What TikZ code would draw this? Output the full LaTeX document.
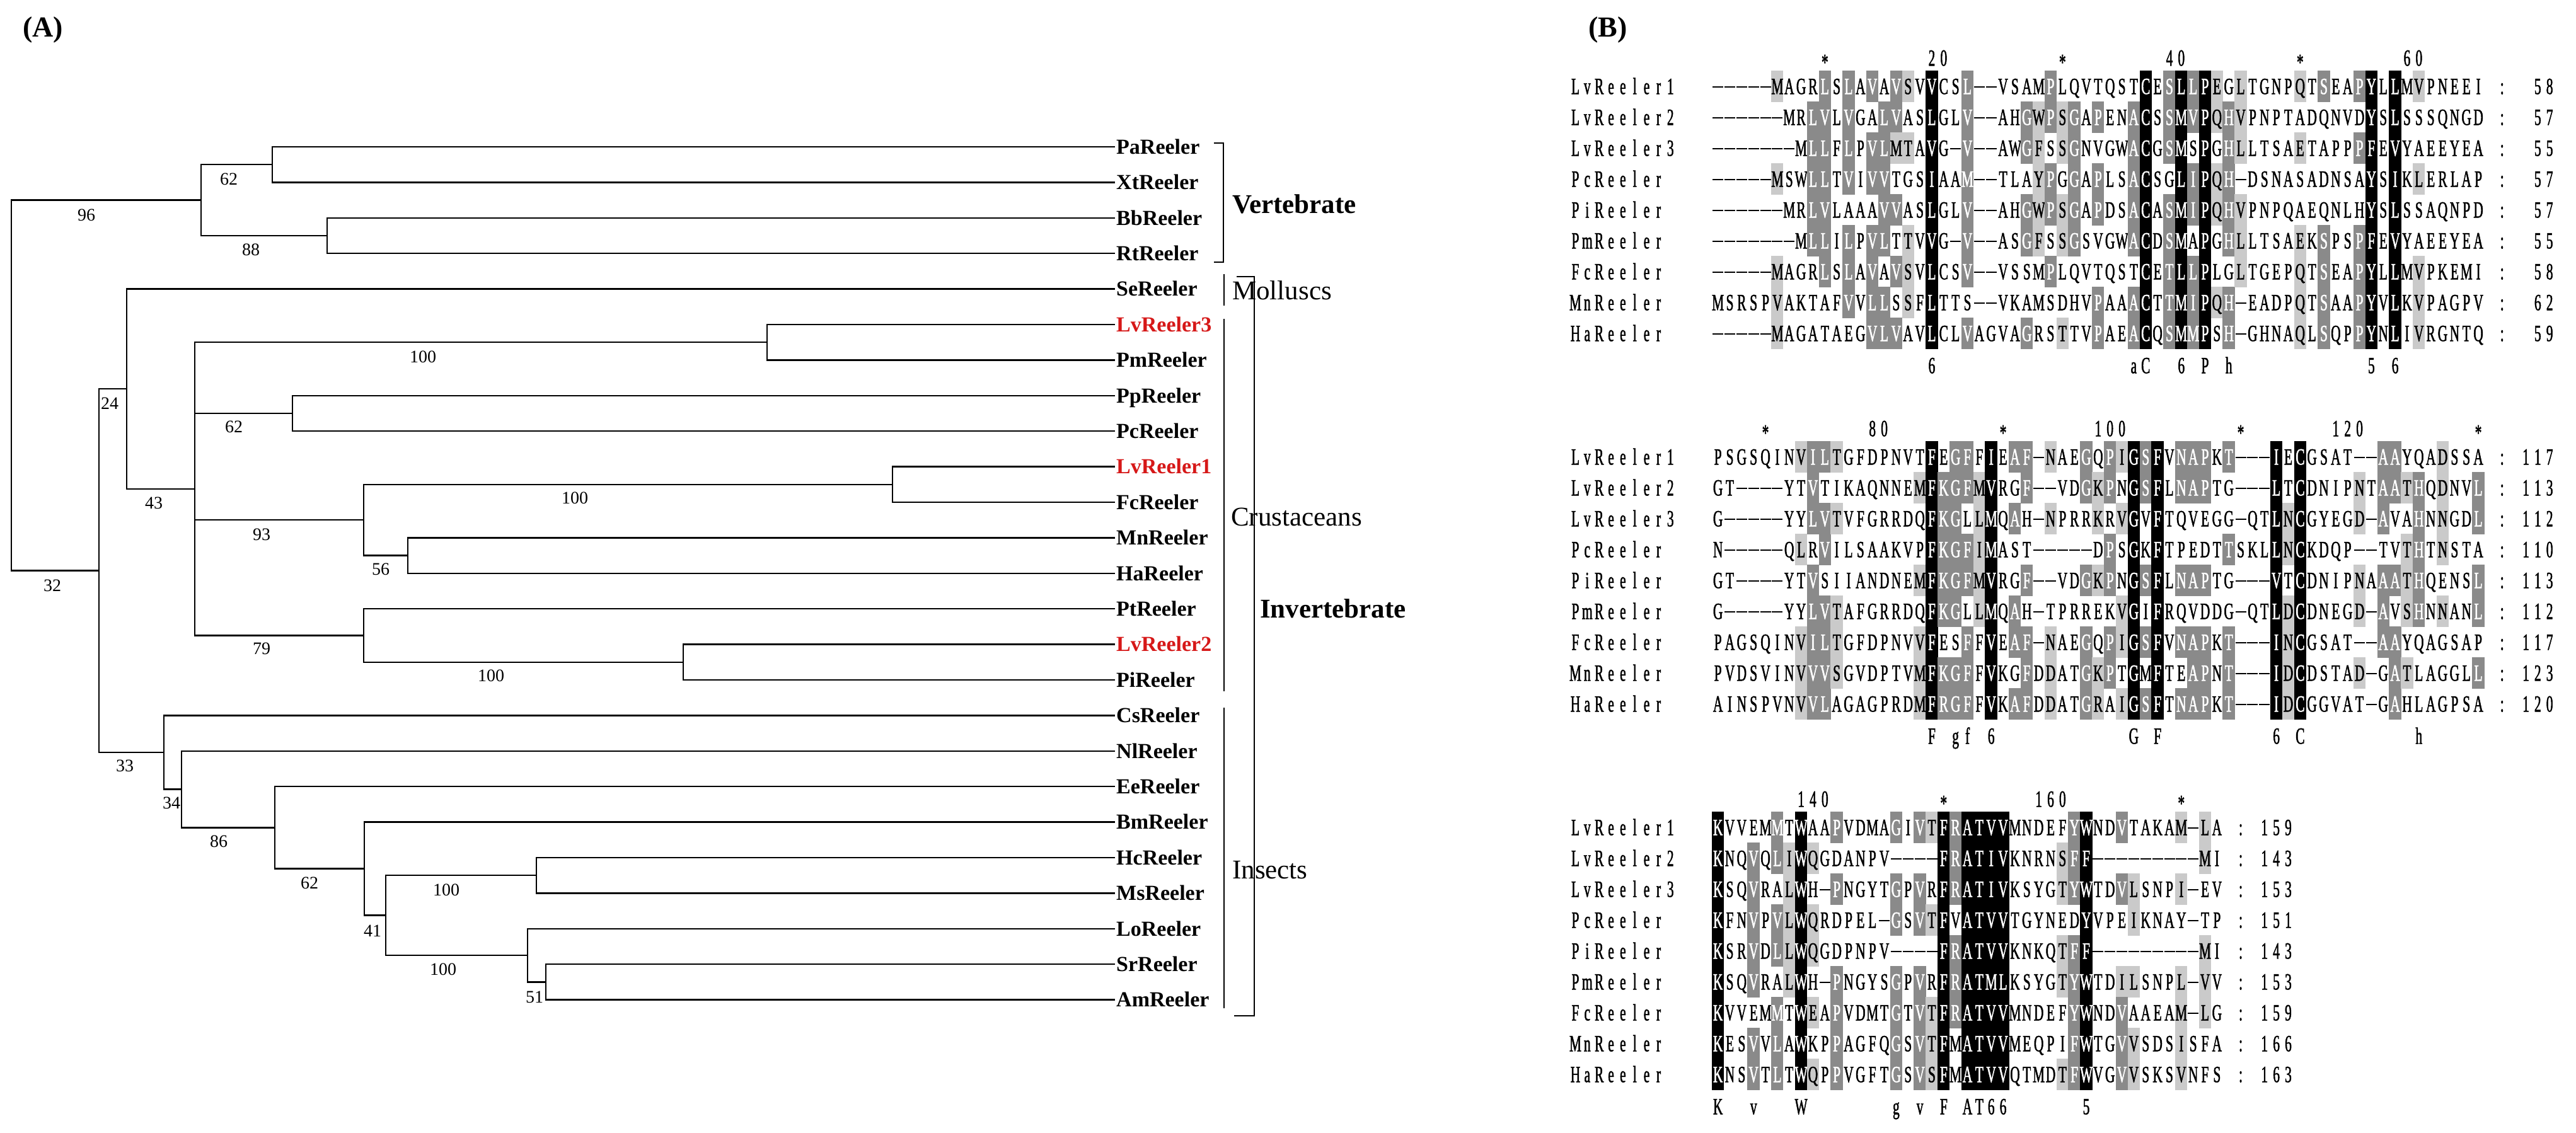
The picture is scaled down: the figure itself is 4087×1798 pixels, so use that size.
\documentclass[tikz,border=0pt]{standalone}
\usepackage{fontspec}
\setmainfont{Liberation Serif}
\newfontfamily\seqfont[FakeStretch=0.58,FakeBold=1.3]{Liberation Serif}
\definecolor{lvred}{RGB}{214,24,24}
\definecolor{shdark}{RGB}{138,138,138}
\definecolor{shlight}{RGB}{202,202,202}
\tikzset{
  branch/.style={line width=2.4pt, line cap=rect},
  leafname/.style={anchor=west, inner sep=0pt, text height=22.5pt, text depth=0pt, font=\fontsize{34}{36}\selectfont\bfseries},
  bootval/.style={inner sep=0pt, text height=19pt, text depth=0pt, font=\fontsize{28}{30}\selectfont},
  grouptext/.style={anchor=west, inner sep=0pt, text height=28.5pt, text depth=0pt, font=\fontsize{43}{46}\selectfont},
  bracket/.style={line width=2.6pt},
  panellabel/.style={inner sep=0pt, font=\fontsize{46}{50}\selectfont\bfseries},
  seqchar/.style={inner sep=0pt, anchor=base, font=\seqfont\fontsize{37}{40}\selectfont},
  gapline/.style={line width=2.4pt},
}
\def\rknone{none}
\newcommand\rkcell[4]{%
  \ifcase#4\relax \def\rkbg{none}\def\rkfg{black}%
  \or \def\rkbg{shlight}\def\rkfg{black}%
  \or \def\rkbg{shdark}\def\rkfg{white}%
  \else \def\rkbg{black}\def\rkfg{white}\fi
  \rkdraw{#1}{#2}{#3}}
\newcommand\rkdraw[3]{%
  \ifx\rkbg\rknone\else
    \fill[fill=\rkbg] ({2489.7+18.85*(#1)},{#2-24.7}) rectangle ++(19.3,49.4);%
  \fi
  \if-#3\relax
    \draw[gapline,draw=\rkfg] ({2491+18.85*(#1)},{#2+1}) -- ++(17,0);%
  \else\if*#3\relax
    \node[seqchar,text=\rkfg] at ({2499.43+18.85*(#1)},{#2+19}) {#3};%
  \else
    \node[seqchar,text=\rkfg] at ({2499.43+18.85*(#1)},{#2+12.3}) {#3};%
  \fi\fi}

\ExplSyntaxOn
\int_new:N \l_rk_len_int
\int_new:N \l_rk_n_int
\int_new:N \l_rk_i_int
\int_new:N \l_rk_m_int
\int_new:N \l_rk_lev_int
\int_new:N \l_rk_k_int
\tl_new:N \l_rk_grp_tl
\tl_new:N \l_rk_num_tl
\int_step_inline:nn {9}
  {
    \tl_new:c {l_rk_ch_#1_tl}
    \tl_new:c {l_rk_g_#1_tl}
    \int_new:c {l_rk_n_#1_int}
    \int_new:c {l_rk_id_#1_int}
  }
\cs_new_protected:Npn \rk_group:n #1
  {
    \str_case:nnF {#1}
      {
        {L}{\tl_set:Nn \l_rk_grp_tl {h}}
        {I}{\tl_set:Nn \l_rk_grp_tl {h}}
        {V}{\tl_set:Nn \l_rk_grp_tl {h}}
        {M}{\tl_set:Nn \l_rk_grp_tl {h}}
        {F}{\tl_set:Nn \l_rk_grp_tl {a}}
        {Y}{\tl_set:Nn \l_rk_grp_tl {a}}
        {W}{\tl_set:Nn \l_rk_grp_tl {a}}
        {D}{\tl_set:Nn \l_rk_grp_tl {d}}
        {N}{\tl_set:Nn \l_rk_grp_tl {d}}
        {E}{\tl_set:Nn \l_rk_grp_tl {e}}
        {Q}{\tl_set:Nn \l_rk_grp_tl {e}}
        {S}{\tl_set:Nn \l_rk_grp_tl {s}}
        {T}{\tl_set:Nn \l_rk_grp_tl {s}}
        {K}{\tl_set:Nn \l_rk_grp_tl {k}}
        {R}{\tl_set:Nn \l_rk_grp_tl {k}}
        {-}{\tl_clear:N \l_rk_grp_tl}
      }
      { \tl_set:Nn \l_rk_grp_tl {#1} }
  }
\cs_new_protected:Npn \rk_column:nnn #1#2#3
  {
    \int_step_inline:nn {9}
      {
        \tl_set:cx {l_rk_ch_##1_tl} { \tl_item:cn {g_rk_seq_#1_##1_tl} {#2} }
        \exp_args:Nv \rk_group:n {l_rk_ch_##1_tl}
        \tl_set_eq:cN {l_rk_g_##1_tl} \l_rk_grp_tl
      }
    \int_zero:N \l_rk_m_int
    \int_step_inline:nn {9}
      {
        \int_zero:N \l_rk_n_int
        \int_zero:N \l_rk_i_int
        \tl_if_empty:cF {l_rk_g_##1_tl}
          {
            \int_step_inline:nn {9}
              {
                \tl_if_eq:ccT {l_rk_g_##1_tl} {l_rk_g_####1_tl}
                  { \int_incr:N \l_rk_n_int }
                \tl_if_eq:ccT {l_rk_ch_##1_tl} {l_rk_ch_####1_tl}
                  { \int_incr:N \l_rk_i_int }
              }
          }
        \int_set_eq:cN {l_rk_n_##1_int} \l_rk_n_int
        \int_set_eq:cN {l_rk_id_##1_int} \l_rk_i_int
        \int_compare:nNnT {\l_rk_n_int} > {\l_rk_m_int}
          { \int_set_eq:NN \l_rk_m_int \l_rk_n_int }
      }
    \int_step_inline:nn {9}
      {
        \int_zero:N \l_rk_lev_int
        \int_compare:nNnT { \int_use:c {l_rk_n_##1_int} } = { \l_rk_m_int }
          {
            \int_compare:nNnTF {\l_rk_m_int} = {9}
              { \int_set:Nn \l_rk_lev_int {3} }
              {
                \int_compare:nNnTF {\l_rk_m_int} > {6}
                  { \int_set:Nn \l_rk_lev_int {2} }
                  {
                    \int_compare:nNnT {\l_rk_m_int} > {4}
                      {
                        \int_compare:nNnTF { \int_use:c {l_rk_id_##1_int} } > {4}
                          { \int_set:Nn \l_rk_lev_int {2} }
                          { \int_set:Nn \l_rk_lev_int {1} }
                      }
                  }
              }
          }
        \use:x
          {
            \exp_not:N \rkcell
              { \int_eval:n {11 + #2} }
              { \fp_eval:n { #3 + 49 * (##1 - 1) } }
              { \tl_use:c {l_rk_ch_##1_tl} }
              { \int_use:N \l_rk_lev_int }
          }
      }
  }
\cs_new_protected:Npn \rk_block:nn #1#2
  {
    \int_set:Nn \l_rk_len_int { \tl_count:c {g_rk_seq_#1_1_tl} }
    \int_step_inline:nn { \l_rk_len_int }
      { \rk_column:nnn {#1} {##1} {#2} }
  }
\cs_new_protected:Npn \rk_text:nnn #1#2#3
  {
    \int_zero:N \l_rk_k_int
    \str_map_inline:nn {#3}
      {
        \str_if_eq:nnF {##1} {~}
          {
            \use:x
              {
                \exp_not:N \rkcell
                  { \int_eval:n {#1 + \l_rk_k_int} }
                  { #2 }
                  { ##1 }
                  { 0 }
              }
          }
        \int_incr:N \l_rk_k_int
      }
  }
\cs_generate_variant:Nn \rk_text:nnn {xxx}
\clist_const:Nn \c_rk_names_clist {LvReeler1,LvReeler2,LvReeler3,PcReeler,PiReeler,PmReeler,FcReeler,MnReeler,HaReeler}
\cs_new_protected:Npn \rk_labels:nnnn #1#2#3#4
  {
    \int_step_inline:nn {9}
      {
        \rk_text:xxx {0} { \fp_eval:n {#1 + 49*(##1-1)} } { \clist_item:Nn \c_rk_names_clist {##1} }
        \rk_text:xxx {#2} { \fp_eval:n {#1 + 49*(##1-1)} } {:}
        \tl_set:Nx \l_rk_num_tl { \clist_item:nn {#4} {##1} }
        \rk_text:xxx { \int_eval:n { #3 - \tl_count:N \l_rk_num_tl + 1 } } { \fp_eval:n {#1 + 49*(##1-1)} } { \l_rk_num_tl }
      }
  }
\NewDocumentCommand \rkseq {mmm}
  {
    \tl_if_exist:cF {g_rk_seq_#1_#2_tl} { \tl_new:c {g_rk_seq_#1_#2_tl} }
    \tl_gset:cn {g_rk_seq_#1_#2_tl} {#3}
  }
\NewDocumentCommand \rkblock {mm} { \rk_block:nn {#1} {#2} }
\NewDocumentCommand \rkat {mmm} { \rk_text:xxx { \int_eval:n {11+#2} } {#1} {#3} }
\NewDocumentCommand \rklabels {mmmm} { \rk_labels:nnnn {#1}{#2}{#3}{#4} }
\ExplSyntaxOff

\rkseq{1}{1}{-----MAGRLSLAVAVSVVCSL--VSAMPLQVTQSTCESLLPEGLTGNPQTSEAPYLLMVPNEEI}
\rkseq{1}{2}{------MRLVLVGALVASLGLV--AHGWPSGAPENACSSMVPQHVPNPTADQNVDYSLSSSQNGD}
\rkseq{1}{3}{-------MLLFLPVLMTAVG-V--AWGFSSGNVGWACGSMSPGHLLTSAETAPPPFEVYAEEYEA}
\rkseq{1}{4}{-----MSWLLTVIVVTGSIAAM--TLAYPGGAPLSACSGLIPQH-DSNASADNSAYSIKLERLAP}
\rkseq{1}{5}{------MRLVLAAAVVASLGLV--AHGWPSGAPDSACASMIPQHVPNPQAEQNLHYSLSSAQNPD}
\rkseq{1}{6}{-------MLLILPVLTTVVG-V--ASGFSSGSVGWACDSMAPGHLLTSAEKSPSPFEVYAEEYEA}
\rkseq{1}{7}{-----MAGRLSLAVAVSVLCSV--VSSMPLQVTQSTCETLLPLGLTGEPQTSEAPYLLMVPKEMI}
\rkseq{1}{8}{MSRSPVAKTAFVVLLSSFLTTS--VKAMSDHVPAAACTTMIPQH-EADPQTSAAPYVLKVPAGPV}
\rkseq{1}{9}{-----MAGATAEGVLVAVLCLVAGVAGRSTTVPAEACQSMMPSH-GHNAQLSQPPYNLIVRGNTQ}
\rkseq{2}{1}{PSGSQINVILTGFDPNVTFEGFFIEAF-NAEGQPIGSFVNAPKT---IECGSAT--AAYQADSSA}
\rkseq{2}{2}{GT----YTVTIKAQNNEMFKGFMVRGF--VDGKPNGSFLNAPTG---LTCDNIPNTAATHQDNVL}
\rkseq{2}{3}{G-----YYLVTVFGRRDQFKGLLMQAH-NPRRKRVGVFTQVEGG-QTLNCGYEGD-AVAHNNGDL}
\rkseq{2}{4}{N-----QLRVILSAAKVPFKGFIMAST-----DPSGKFTPEDTTSKLLNCKDQP--TVTHTNSTA}
\rkseq{2}{5}{GT----YTVSIIANDNEMFKGFMVRGF--VDGKPNGSFLNAPTG---VTCDNIPNAAATHQENSL}
\rkseq{2}{6}{G-----YYLVTAFGRRDQFKGLLMQAH-TPRREKVGIFRQVDDG-QTLDCDNEGD-AVSHNNANL}
\rkseq{2}{7}{PAGSQINVILTGFDPNVVFESFFVEAF-NAEGQPIGSFVNAPKT---INCGSAT--AAYQAGSAP}
\rkseq{2}{8}{PVDSVINVVVSGVDPTVMFKGFFVKGFDDATGKPTGMFTEAPNT---IDCDSTAD-GATLAGGLL}
\rkseq{2}{9}{AINSPVNVVLAGAGPRDMFRGFFVKAFDDATGRAIGSFTNAPKT---IDCGGVAT-GAHLAGPSA}
\rkseq{3}{1}{KVVEMMTWAAPVDMAGIVTFRATVVMNDEFYWNDVTAKAM-LA}
\rkseq{3}{2}{KNQVQLIWQGDANPV----FRATIVKNRNSFF---------MI}
\rkseq{3}{3}{KSQVRALWH-PNGYTGPVRFRATIVKSYGTYWTDVLSNPI-EV}
\rkseq{3}{4}{KFNVPVLWQRDPEL-GSVTFVATVVTGYNEDYVPEIKNAY-TP}
\rkseq{3}{5}{KSRVDLLWQGDPNPV----FRATVVKNKQTFF---------MI}
\rkseq{3}{6}{KSQVRALWH-PNGYSGPVRFRATMLKSYGTYWTDILSNPL-VV}
\rkseq{3}{7}{KVVEMMTWEAPVDMTGTVTFRATVVMNDEFYWNDVAAEAM-LG}
\rkseq{3}{8}{KESVVLAWKPPAGFQGSVTFMATVVMEQPIFWTGVVSDSISFA}
\rkseq{3}{9}{KNSVTLTWQPPVGFTGSVSFMATVVQTMDTFWVGVVSKSVNFS}

\begin{document}
\begin{tikzpicture}[x=1pt,y=-1pt]
\useasboundingbox (0,0) rectangle (4087,1798);
\fill[white] (0,0) rectangle (4087,1798);

% ---------- panel labels
\node[panellabel] (labA) at (68,47) {(A)};
\node[panellabel] (labB) at (2551,47) {(B)};

% ---------- leaves
\foreach \nm/\i/\col in {PaReeler/1/black, XtReeler/2/black, BbReeler/3/black, RtReeler/4/black,
  SeReeler/5/black, LvReeler3/6/lvred, PmReeler/7/black, PpReeler/8/black, PcReeler/9/black,
  LvReeler1/10/lvred, FcReeler/11/black, MnReeler/12/black, HaReeler/13/black, PtReeler/14/black,
  LvReeler2/15/lvred, PiReeler/16/black, CsReeler/17/black, NlReeler/18/black, EeReeler/19/black,
  BmReeler/20/black, HcReeler/21/black, MsReeler/22/black, LoReeler/23/black, SrReeler/24/black,
  AmReeler/25/black}{
  \coordinate (t\i) at (1768,{233+56.4*(\i-1)});
  \node[leafname,text=\col] (n\i) at (1771,{233+56.4*(\i-1)}) {\nm};
}

% ---------- internal nodes
\coordinate (vPX)   at (432,261.2);
\coordinate (vBR)   at (519,374);
\coordinate (vVert) at (319,317.6);
\coordinate (vLP)   at (1217,543.2);
\coordinate (vPP)   at (464,656);
\coordinate (vLF)   at (1416,768.8);
\coordinate (vMH)   at (647,881.6);
\coordinate (v93)   at (577,825.2);
\coordinate (vLPi)  at (1084,1050.8);
\coordinate (v79)   at (577,1008.5);
\coordinate (v43)   at (309,775.85);
\coordinate (v24)   at (201,617.2);
\coordinate (vHM)   at (851,1389.2);
\coordinate (vSA)   at (866,1558.4);
\coordinate (vLSA)  at (837,1516.1);
\coordinate (v41)   at (612,1452.65);
\coordinate (v62)   at (578,1378.6);
\coordinate (v86)   at (436,1313.4);
\coordinate (v34)   at (288,1252.6);
\coordinate (v33)   at (260,1194);
\coordinate (v32)   at (157,905.6);
\coordinate (vRoot) at (18,611.6);

\draw[branch] (vPX) |- (t1);   \draw[branch] (vPX) |- (t2);
\draw[branch] (vBR) |- (t3);   \draw[branch] (vBR) |- (t4);
\draw[branch] (vVert) |- (vPX); \draw[branch] (vVert) |- (vBR);
\draw[branch] (vLP) |- (t6);   \draw[branch] (vLP) |- (t7);
\draw[branch] (vPP) |- (t8);   \draw[branch] (vPP) |- (t9);
\draw[branch] (vLF) |- (t10);  \draw[branch] (vLF) |- (t11);
\draw[branch] (vMH) |- (t12);  \draw[branch] (vMH) |- (t13);
\draw[branch] (v93) |- (vLF);  \draw[branch] (v93) |- (vMH);
\draw[branch] (vLPi) |- (t15); \draw[branch] (vLPi) |- (t16);
\draw[branch] (v79) |- (t14);  \draw[branch] (v79) |- (vLPi);
\draw[branch] (v43) |- (vLP);  \draw[branch] (v43) |- (vPP);
\draw[branch] (v43) |- (v93);  \draw[branch] (v43) |- (v79);
\draw[branch] (v24) |- (t5);   \draw[branch] (v24) |- (v43);
\draw[branch] (vHM) |- (t21);  \draw[branch] (vHM) |- (t22);
\draw[branch] (vSA) |- (t24);  \draw[branch] (vSA) |- (t25);
\draw[branch] (vLSA) |- (t23); \draw[branch] (vLSA) |- (vSA);
\draw[branch] (v41) |- (vHM);  \draw[branch] (v41) |- (vLSA);
\draw[branch] (v62) |- (t20);  \draw[branch] (v62) |- (v41);
\draw[branch] (v86) |- (t19);  \draw[branch] (v86) |- (v62);
\draw[branch] (v34) |- (t18);  \draw[branch] (v34) |- (v86);
\draw[branch] (v33) |- (t17);  \draw[branch] (v33) |- (v34);
\draw[branch] (v32) |- (v24);  \draw[branch] (v32) |- (v33);
\draw[branch] (vRoot) |- (vVert); \draw[branch] (vRoot) |- (v32);

% ---------- bootstrap values
\node[bootval] (b96)  at (137,341)  {96};
\node[bootval] (b62a) at (363,284)  {62};
\node[bootval] (b88)  at (398,396)  {88};
\node[bootval] (b24)  at (174,640)  {24};
\node[bootval] (b100a) at (671,566) {100};
\node[bootval] (b62b) at (371,677)  {62};
\node[bootval] (b43)  at (244,798)  {43};
\node[bootval] (b93)  at (415,848)  {93};
\node[bootval] (b100b) at (912,790) {100};
\node[bootval] (b56)  at (604,903)  {56};
\node[bootval] (b32)  at (83,929)   {32};
\node[bootval] (b79)  at (415,1029) {79};
\node[bootval] (b100c) at (779,1072) {100};
\node[bootval] (b33)  at (198,1215) {33};
\node[bootval] (b34)  at (272,1274) {34};
\node[bootval] (b86)  at (347,1335) {86};
\node[bootval] (b62c) at (491,1401) {62};
\node[bootval] (b41)  at (591,1477) {41};
\node[bootval] (b100d) at (708,1412) {100};
\node[bootval] (b100e) at (703,1538) {100};
\node[bootval] (b51)  at (848,1582) {51};

% ---------- brackets and group labels
\draw[bracket] (1926,227) -- (1941,227) -- (1941,416) -- (1926,416);
\node[grouptext,font=\fontsize{43}{46}\selectfont\bfseries] (gVert) at (1955,324) {Vertebrate};
\draw[bracket] (1942,435) -- (1942,485);
\node[grouptext] (gMol) at (1955,461) {Molluscs};
\draw[bracket] (1942,506) -- (1942,1097);
\node[grouptext] (gCru) at (1953,820) {Crustaceans};
\draw[bracket] (1942,1123) -- (1942,1600);
\node[grouptext] (gIns) at (1955,1380) {Insects};
\draw[bracket] (1962,439) -- (1990,439) -- (1990,1612) -- (1958,1612);
\node[grouptext,font=\fontsize{43}{46}\selectfont\bfseries] (gInv) at (1999,966) {Invertebrate};

% ---------- alignment block 1
\rkat{92}{10}{*}\rkat{92}{19}{20}\rkat{92}{30}{*}\rkat{92}{39}{40}\rkat{92}{50}{*}\rkat{92}{59}{60}
\rkblock{1}{137}
\rklabels{137}{78}{82}{58,57,55,57,57,55,58,62,59}
\rkat{580}{19}{6}\rkat{580}{36}{aC}\rkat{580}{40}{6}\rkat{580}{42}{P}\rkat{580}{44}{h}\rkat{580}{56}{5}\rkat{580}{58}{6}

% ---------- alignment block 2
\rkat{680}{5}{*}\rkat{680}{14}{80}\rkat{680}{25}{*}\rkat{680}{33}{100}\rkat{680}{45}{*}\rkat{680}{53}{120}\rkat{680}{65}{*}
\rkblock{2}{725}
\rklabels{725}{78}{82}{117,113,112,110,113,112,117,123,120}
\rkat{1168}{19}{F}\rkat{1168}{21}{gf}\rkat{1168}{24}{6}\rkat{1168}{36}{G}\rkat{1168}{38}{F}\rkat{1168}{48}{6}\rkat{1168}{50}{C}\rkat{1168}{60}{h}

% ---------- alignment block 3
\rkat{1268}{8}{140}\rkat{1268}{20}{*}\rkat{1268}{28}{160}\rkat{1268}{40}{*}
\rkblock{3}{1313}
\rklabels{1313}{56}{60}{159,143,153,151,143,153,159,166,163}
\rkat{1756}{1}{K}\rkat{1756}{4}{v}\rkat{1756}{8}{W}\rkat{1756}{16}{g}\rkat{1756}{18}{v}\rkat{1756}{20}{F}\rkat{1756}{22}{AT66}\rkat{1756}{32}{5}
\end{tikzpicture}
\end{document}
